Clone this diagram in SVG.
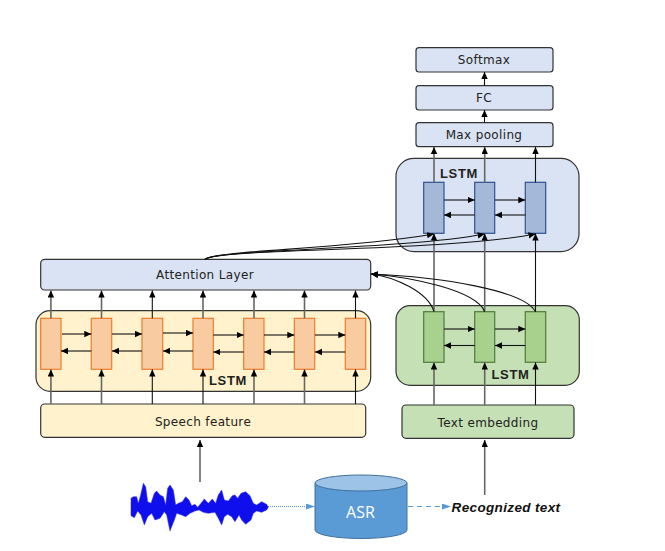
<svg xmlns="http://www.w3.org/2000/svg" width="665" height="551" viewBox="0 0 665 551">
<style>
text{font-family:"DejaVu Sans","Liberation Sans",sans-serif;font-size:12px;letter-spacing:.35px;fill:#222;text-anchor:middle}
.lstm{font-family:"Liberation Sans",Arial,sans-serif;font-size:13px;font-weight:bold;letter-spacing:.7px}
.box{stroke:#333;stroke-width:1.2}
.blue{fill:#dae3f3}.yellow{fill:#fff2cc}.green{fill:#c5e0b4}
.co{fill:#f8cba0;stroke:#ed7d31;stroke-width:1.2}
.cb{fill:#a4b8d8;stroke:#2f528f;stroke-width:1.2}
.cg{fill:#a9d18e;stroke:#4f7a3a;stroke-width:1.2}
.c path,.c line{fill:none;stroke:#111;stroke-width:1.1;marker-end:url(#a)}
.c .g{stroke:#666;stroke-width:1.6}
</style>
<defs>
<marker id="a" markerUnits="userSpaceOnUse" markerWidth="8" markerHeight="7" refX="7" refY="3.2" orient="auto"><path d="M0 0L7 3.2L0 6.4z" fill="#000" stroke="none"/></marker>
<marker id="b" markerUnits="userSpaceOnUse" markerWidth="10" markerHeight="8" refX="9" refY="3" orient="auto"><path d="M0 0L9 3L0 6z" fill="#5b9bd5"/></marker>
</defs>

<g id="softmax"><rect class="box blue" x="416" y="47.7" width="137" height="24.3" rx="3"/><text x="484" y="63.5">Softmax</text></g>
<g id="fc"><rect class="box blue" x="416" y="85.7" width="137" height="24.3" rx="3"/><text x="484" y="102">FC</text></g>
<g id="maxpool"><rect class="box blue" x="416" y="122.7" width="137" height="24" rx="3"/><text x="484" y="139">Max pooling</text></g>
<g id="lstm-top"><rect class="box blue" x="396" y="158.3" width="183" height="93.4" rx="18"/><text class="lstm" x="459" y="177.5">LSTM</text>
<rect class="cb" x="423.7" y="182.3" width="20.3" height="51"/><rect class="cb" x="474.7" y="182.3" width="20" height="51"/><rect class="cb" x="525.3" y="182.3" width="20.4" height="51"/></g>
<g id="attention"><rect class="box blue" x="40.7" y="259.3" width="330" height="30.7" rx="4"/><text x="205" y="279">Attention Layer</text></g>
<g id="lstm-speech"><rect class="box yellow" x="36" y="310.7" width="334.7" height="80.6" rx="14"/><text class="lstm" x="228" y="385">LSTM</text>
<rect class="co" x="40.7" y="318.3" width="20.3" height="51"/><rect class="co" x="91.3" y="318.3" width="20.4" height="51"/><rect class="co" x="142" y="318.3" width="20.7" height="51"/><rect class="co" x="193" y="318.3" width="20.3" height="51"/><rect class="co" x="243.7" y="318.3" width="20.3" height="51"/><rect class="co" x="294.3" y="318.3" width="20.4" height="51"/><rect class="co" x="345.3" y="318.3" width="20.4" height="51"/></g>
<g id="speech"><rect class="box yellow" x="40.7" y="404" width="325" height="33.3" rx="4"/><text x="203" y="426">Speech feature</text></g>
<g id="lstm-text"><rect class="box green" x="396" y="305.7" width="183.3" height="79.6" rx="14"/><text class="lstm" x="510.5" y="379">LSTM</text>
<rect class="cg" x="423.7" y="311.7" width="20.3" height="50.6"/><rect class="cg" x="474.7" y="311.7" width="20" height="50.6"/><rect class="cg" x="525.3" y="311.7" width="20.4" height="50.6"/></g>
<g id="embedding"><rect class="box green" x="402" y="405" width="172" height="33.3" rx="4"/><text x="488" y="426.5">Text embedding</text></g>

<g id="waveform"><path transform="translate(125 475) scale(.3333)" fill="#0f0fee" stroke="#2a2af0" stroke-width="1.5" stroke-linejoin="round" d="M18 70L25 65L35 65L40 85L47 60L55 25L62 35L68 80L78 85L88 55L95 48L105 60L115 65L122 90L128 40L135 30L145 45L152 90L160 85L172 80L182 65L192 75L200 92L210 88L218 97L228 85L238 72L250 85L262 72L272 85L280 60L290 45L298 75L310 78L322 62L330 60L338 70L348 55L362 50L375 62L385 85L395 90L410 80L425 88L430 97L425 105L410 112L395 108L385 115L378 135L362 148L350 135L342 120L330 140L320 125L308 118L298 125L290 150L280 130L270 112L250 115L235 112L222 105L210 108L195 115L182 125L170 120L155 115L148 135L135 168L125 120L118 110L105 130L90 135L80 115L68 125L58 150L48 120L38 108L28 128L18 122Z"/></g>
<g id="asr"><path d="M315 483V530A46 8.5 0 0 0 407 530V483Z" fill="#5b9bd5" stroke="#41719c"/><ellipse cx="361" cy="483" rx="46" ry="8" fill="#9dc3e6" stroke="#41719c"/><text x="360.500" y="517.500" style="font-family:'Open Sans','Liberation Sans',sans-serif;font-size:16px;letter-spacing:0;fill:#fff">ASR</text></g>
<text x="506" y="511.500" style="font-family:'Liberation Sans',Arial,sans-serif;font-size:13.500px;font-style:italic;font-weight:bold;fill:#111;letter-spacing:.35px">Recognized text</text>

<g id="connectors" class="c">
<line x1="484.5" y1="85.7" x2="484.5" y2="72"/><line x1="484.5" y1="122.7" x2="484.5" y2="110"/>
<line class="g" x1="434" y1="182.3" x2="434" y2="147"/><line class="g" x1="484.7" y1="182.3" x2="484.7" y2="147"/><line x1="535.5" y1="182.3" x2="535.5" y2="147"/>
<line x1="444" y1="200" x2="474.7" y2="200"/><line x1="495" y1="200" x2="525.3" y2="200"/><line x1="474.7" y1="215" x2="444" y2="215"/><line x1="525.3" y1="215" x2="495" y2="215"/>
<line class="g" x1="434" y1="311.7" x2="434" y2="233.5"/><line class="g" x1="484.7" y1="311.7" x2="484.7" y2="233.5"/><line x1="535.5" y1="311.7" x2="535.5" y2="233.5"/>
<path d="M205 259.3C218 250 340 250 434 234" stroke-width="1.3"/><path d="M205 259.3C218 249 400 250 484.7 234" stroke-width="1.3"/><path d="M205 259.3C218 248 440 252 535.5 234" stroke-width="1.3"/>
<path d="M434 311.7C428 292 395 277 371 274"/><path d="M484.7 311.7C476 290 410 277 371 274"/><path d="M535.5 311.7C524 290 440 277 371 274"/>
<line class="g" x1="50.9" y1="318.3" x2="50.9" y2="290.5"/><line class="g" x1="101.5" y1="318.3" x2="101.5" y2="290.5"/><line x1="152.3" y1="318.3" x2="152.3" y2="290.5"/><line class="g" x1="203" y1="318.3" x2="203" y2="290.5"/><line class="g" x1="254" y1="318.3" x2="254" y2="290.5"/><line class="g" x1="304.5" y1="318.3" x2="304.5" y2="290.5"/><line x1="355.5" y1="318.3" x2="355.5" y2="290.5"/>
<line x1="62" y1="334" x2="91.3" y2="334"/><line x1="112" y1="334" x2="142" y2="334"/><line x1="163" y1="333" x2="193" y2="333"/><line x1="213.3" y1="335" x2="243.7" y2="335"/><line x1="264" y1="335" x2="294.3" y2="335"/><line x1="315" y1="335" x2="345.3" y2="335"/>
<line x1="91.3" y1="351" x2="61" y2="351"/><line x1="142" y1="351" x2="112" y2="351"/><line x1="193" y1="351" x2="163" y2="351"/><line x1="243.7" y1="352" x2="213.3" y2="352"/><line x1="294.3" y1="352" x2="264" y2="352"/><line x1="345.3" y1="352" x2="315" y2="352"/>
<line x1="444" y1="329" x2="474.7" y2="329"/><line x1="495" y1="329" x2="525.3" y2="329"/><line x1="474.7" y1="345.5" x2="444" y2="345.5"/><line x1="525.3" y1="345.5" x2="495" y2="345.5"/>
<line class="g" x1="50.9" y1="404" x2="50.9" y2="369.5"/><line class="g" x1="101.5" y1="404" x2="101.5" y2="369.5"/><line x1="152.3" y1="404" x2="152.3" y2="369.5"/><line x1="203" y1="404" x2="203" y2="369.5"/><line class="g" x1="254" y1="404" x2="254" y2="369.5"/><line class="g" x1="304.5" y1="404" x2="304.5" y2="369.5"/><line x1="355.5" y1="404" x2="355.5" y2="369.5"/>
<line class="g" x1="434" y1="405" x2="434" y2="362.5"/><line class="g" x1="484.7" y1="405" x2="484.7" y2="362.5"/><line x1="535.5" y1="405" x2="535.5" y2="362.5"/>
<line class="g" x1="200" y1="482" x2="200" y2="440"/><line class="g" x1="484.7" y1="495" x2="484.7" y2="440"/>
<path d="M268 506.5H315" style="stroke:#5b9bd5;stroke-dasharray:1 1;marker-end:url(#b)"/><path d="M408 506.5H451" style="stroke:#5b9bd5;stroke-dasharray:5 4;marker-end:url(#b)"/>
</g>
</svg>
